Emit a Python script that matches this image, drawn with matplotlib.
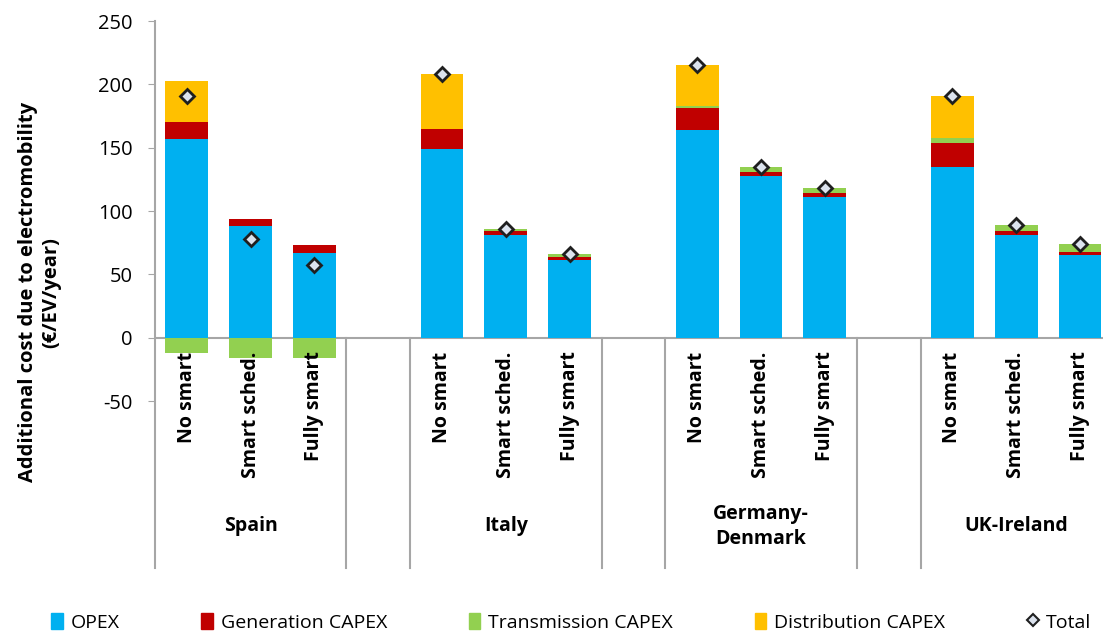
import matplotlib.pyplot as plt
import numpy as np
from matplotlib.lines import Line2D
from matplotlib.patches import Patch

plt.rcParams['font.family'] = ['Open Sans', 'DejaVu Sans']
plt.rcParams['axes.unicode_minus'] = False

regions = ['Spain', 'Italy', 'Germany-\nDenmark', 'UK-Ireland']
scenarios = ['No smart', 'Smart sched.', 'Fully smart']

# cost components per region (No smart, Smart sched., Fully smart), EUR/EV/year
opex = [[157, 88, 67], [149, 81, 61], [164, 128, 111], [135, 81, 65]]
gen_capex = [[13, 6, 6], [16, 3, 3], [17, 3, 3], [19, 3, 3]]
trans_capex = [[-12, -16, -16], [0, 2, 2], [2, 4, 4], [4, 5, 6]]
dist_capex = [[33, 0, 0], [43, 0, 0], [32, 0, 0], [33, 0, 0]]

opex = np.array(opex, dtype=float)
gen_capex = np.array(gen_capex, dtype=float)
trans_capex = np.array(trans_capex, dtype=float)
dist_capex = np.array(dist_capex, dtype=float)
total = opex + gen_capex + trans_capex + dist_capex

c_opex = '#00B0F0'
c_gen = '#C00000'
c_trans = '#92D050'
c_dist = '#FFC000'
grey = '#A6A6A6'

fig = plt.figure(figsize=(11.03, 6.35), dpi=100)
ax = fig.add_axes([0.1405, 0.3685, 0.8676, 0.5984])

# each region takes three slots plus one empty slot after it
x = np.array([g * 4 + k for g in range(4) for k in range(3)], dtype=float)
o = opex.ravel()
gc = gen_capex.ravel()
tc = trans_capex.ravel()
dc = dist_capex.ravel()
w = 0.67

ax.bar(x, o, w, color=c_opex, zorder=2)
ax.bar(x, gc, w, bottom=o, color=c_gen, zorder=2)
pos_t = np.where(tc > 0, tc, 0)
neg_t = np.where(tc < 0, tc, 0)
ax.bar(x, pos_t, w, bottom=o + gc, color=c_trans, zorder=2)
ax.bar(x, neg_t, w, bottom=0, color=c_trans, zorder=2)
ax.bar(x, dc, w, bottom=o + gc + pos_t, color=c_dist, zorder=2)
ax.plot(x, total.ravel(), 'D', ms=7.5, mfc='#DCE3EE', mec='#1F1F1F', mew=2,
        zorder=4)

ax.set_xlim(-0.5, 14.5)
ax.set_ylim(-50, 250)
ax.set_yticks([-50, 0, 50, 100, 150, 200, 250])
ax.tick_params(axis='y', direction='out', length=5, color=grey, labelsize=14.5,
               pad=11)
ax.tick_params(axis='x', bottom=False, labelbottom=False)
for s in ax.spines.values():
    s.set_visible(False)

ax.axhline(0, color=grey, lw=1.5, zorder=1)

# category axis drawn below the zero line
low = -182
ax.plot([-0.5, -0.5], [low, 250], color=grey, lw=1.5, clip_on=False)
for xs in [2.5, 3.5, 6.5, 7.5, 10.5, 11.5]:
    ax.plot([xs, xs], [low, 0], color=grey, lw=1.5, clip_on=False)

for xi, lab in zip(x, scenarios * 4):
    ax.text(xi, -11, lab, rotation=90, ha='center', va='top', fontsize=14,
            fontweight='bold', clip_on=False)
for g, reg in enumerate(regions):
    ax.text(g * 4 + 1, -149, reg, ha='center', va='center', fontsize=14,
            fontweight='bold', linespacing=1.3, clip_on=False)

fig.text(0.036, 0.54, 'Additional cost due to electromobility\n(€/EV/year)',
         rotation=90, ha='center', va='center', fontsize=14.5,
         fontweight='bold', linespacing=1.2)

handles = [
    Patch(color=c_opex, label='OPEX'),
    Patch(color=c_gen, label='Generation CAPEX'),
    Patch(color=c_trans, label='Transmission CAPEX'),
    Patch(color=c_dist, label='Distribution CAPEX'),
    Line2D([], [], ls='none', marker='D', ms=6, mfc='#DCE3EE',
           mec='#1F1F1F', mew=1.5, label='Total'),
]
fig.legend(handles=handles, loc='center', bbox_to_anchor=(0.518, 0.02),
           ncol=5, frameon=False, fontsize=14, handlelength=0.6,
           handleheight=0.9, handletextpad=0.4, columnspacing=4.2)

fig.savefig('out.png', dpi=100)
